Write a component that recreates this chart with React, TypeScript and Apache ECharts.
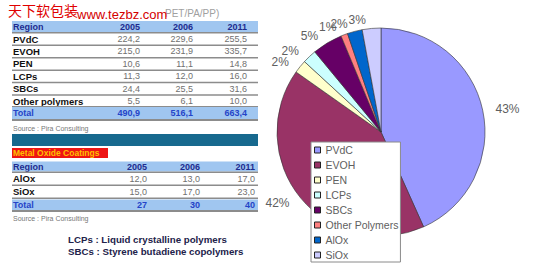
import React, { useEffect, useRef } from 'react';
import * as echarts from 'echarts';

const years = ['2005', '2006', '2011'];
const polymers = ['PVdC', 'EVOH', 'PEN', 'LCPs', 'SBCs', 'Other polymers'];
const poly2005 = [224.2, 215.0, 10.6, 11.3, 24.4, 5.5];
const poly2006 = [229.6, 231.9, 11.1, 12.0, 25.5, 6.1];
const poly2011 = [255.5, 335.7, 14.8, 16.0, 31.6, 10.0];
const polyTotals = [490.9, 516.1, 663.4];
const oxides = ['AlOx', 'SiOx'];
const ox2005 = [12.0, 15.0];
const ox2006 = [13.0, 17.0];
const ox2011 = [17.0, 23.0];
const oxTotals = [27, 30, 40];
const pieNames = ['PVdC', 'EVOH', 'PEN', 'LCPs', 'SBCs', 'Other Polymers', 'AlOx', 'SiOx'];
const pieValues = [...poly2005, ...ox2005];
const pieColors = ['#9999FF', '#993366', '#FFFFCC', '#CCFFFF', '#660066', '#FF8080', '#0066CC', '#CCCCFF'];
const watermarkCn = '天下软包装';
const watermarkUrl = 'www.tezbz.com';
const subtitleTail = 'PET/PA/PP)';
const sourceText = 'Source : Pira Consulting';
const oxideTitle = 'Metal Oxide Coatings';
const notes = ['LCPs : Liquid crystalline polymers', 'SBCs : Styrene butadiene copolymers'];

const FONT = '"Liberation Sans", Arial, sans-serif';
const fmt = (v: number) => v.toFixed(1).replace('.', ',');

const txt = (text: string, x: number, y: number, font: string, fill: string, align = 'left') => ({
  type: 'text',
  x,
  y,
  silent: true,
  style: {
    text,
    font,
    fill,
    align,
    textAlign: align,
    verticalAlign: 'middle',
    textVerticalAlign: 'middle',
  },
});
const box = (x: number, y: number, w: number, h: number, fill: string) => ({
  type: 'rect',
  silent: true,
  shape: { x, y, width: w, height: h },
  style: { fill },
});

function buildGraphics() {
  const els: any[] = [];
  const X0 = 12;
  const W = 246;
  const blue = '#A0C6F0';
  const line = '#8c8c8c';
  const navy = '#1d2b8f';
  const totalBlue = '#2444c8';
  const valFont = `9px ${FONT}`;
  const valColor = '#707070';
  const hdrFont = `bold 9px ${FONT}`;
  const labFont = `bold 9.5px ${FONT}`;

  // watermark / title
  els.push(txt(subtitleTail, 165, 13, `10px ${FONT}`, '#a0a0a0'));
  els.push(txt(watermarkCn, 8, 10, `14px "Noto Sans CJK SC", sans-serif`, '#e00000'));
  els.push(txt(watermarkUrl, 77, 14, `13px ${FONT}`, '#d40000'));

  // table 1
  const cols1 = [140, 193, 247];
  els.push(box(X0, 21, W, 11, blue));
  els.push(txt('Region', 13, 26.5, hdrFont, navy));
  years.forEach((y, j) => els.push(txt(y, cols1[j], 26.5, hdrFont, navy, 'right')));
  els.push(box(X0, 32, W, 1.5, line));
  const series1 = [poly2005, poly2006, poly2011];
  polymers.forEach((p, i) => {
    const cy = 39 + i * 12.4;
    els.push(txt(p, 13, cy, labFont, '#111'));
    series1.forEach((arr, j) => els.push(txt(fmt(arr[i]), cols1[j], cy, valFont, valColor, 'right')));
    if (i < polymers.length - 1) els.push(box(X0, cy + 5.6, W, 1.5, line));
  });
  els.push(box(X0, 106, W, 1, line));
  els.push(box(X0, 107, W, 12, blue));
  els.push(txt('Total', 13, 113, hdrFont, totalBlue));
  polyTotals.forEach((t, j) => els.push(txt(fmt(t), cols1[j], 113, hdrFont, totalBlue, 'right')));
  els.push(box(X0, 119, W, 2, line));
  els.push(txt(sourceText, 13, 128, `7px ${FONT}`, '#777'));

  // table 2
  const cols2 = [147, 200, 255];
  els.push(box(X0, 134, W, 12, '#17698E'));
  els.push(box(X0, 148, 96, 10, '#EE1515'));
  els.push(txt(oxideTitle, 13, 153, `bold 8.5px ${FONT}`, '#FFC000'));
  els.push(box(X0, 161.5, W, 10, blue));
  els.push(txt('Region', 13, 166.5, hdrFont, navy));
  years.forEach((y, j) => els.push(txt(y, cols2[j], 166.5, hdrFont, navy, 'right')));
  els.push(box(X0, 171.5, W, 1.5, line));
  const series2 = [ox2005, ox2006, ox2011];
  oxides.forEach((o, i) => {
    const cy = 178.5 + i * 13;
    els.push(txt(o, 13, cy, labFont, '#111'));
    series2.forEach((arr, j) => els.push(txt(fmt(arr[i]), cols2[j], cy, valFont, valColor, 'right')));
    els.push(box(X0, cy + 6, W, 1.5, line));
  });
  els.push(box(X0, 199.5, W, 10.5, blue));
  els.push(txt('Total', 13, 205, hdrFont, totalBlue));
  oxTotals.forEach((t, j) => els.push(txt(String(t), cols2[j], 205, hdrFont, totalBlue, 'right')));
  els.push(box(X0, 210, W, 2, line));
  els.push(txt(sourceText, 13, 218, `7px ${FONT}`, '#777'));

  notes.forEach((n, i) => els.push(txt(n, 68, 239 + i * 12, `bold 9.7px ${FONT}`, '#22224a')));
  return els;
}

export default function App() {
  const ref = useRef<HTMLDivElement>(null);
  useEffect(() => {
    if (!ref.current) return;
    const chart = echarts.init(ref.current, undefined, { renderer: 'svg' });
    chart.setOption({
      animation: false,
      backgroundColor: '#ffffff',
      color: pieColors,
      graphic: { elements: buildGraphics() },
      legend: {
        orient: 'vertical',
        left: 311,
        top: 142,
        icon: 'rect',
        itemWidth: 6,
        itemHeight: 6,
        itemGap: 3,
        itemTextGap: 3,
        padding: [2, 2, 1, 3],
        backgroundColor: '#ffffff',
        borderColor: '#8a8a8a',
        borderWidth: 1,
        borderRadius: 0,
        itemStyle: { borderColor: '#222', borderWidth: 1 },
        textStyle: { fontSize: 10.5, lineHeight: 12, color: '#606060', fontFamily: FONT },
        data: pieNames,
      },
      series: [
        {
          type: 'pie',
          center: [381, 132],
          radius: 104,
          startAngle: 90,
          clockwise: true,
          avoidLabelOverlap: false,
          percentPrecision: 0,
          itemStyle: { borderColor: '#333', borderWidth: 0.6 },
          label: {
            show: true,
            position: 'outside',
            formatter: '{d}%',
            fontSize: 12,
            color: '#606060',
            fontFamily: FONT,
          },
          labelLine: { show: false, length: 8, length2: 0 },
          labelLayout: { hideOverlap: false },
          emphasis: { disabled: true },
          data: pieNames.map((n, i) => ({ name: n, value: pieValues[i] })),
        },
      ],
    });
    return () => chart.dispose();
  }, []);
  return (
    <div
      ref={ref}
      style={{ position: 'fixed', left: 0, top: 0, width: 533, height: 267, background: '#fff' }}
    />
  );
}
